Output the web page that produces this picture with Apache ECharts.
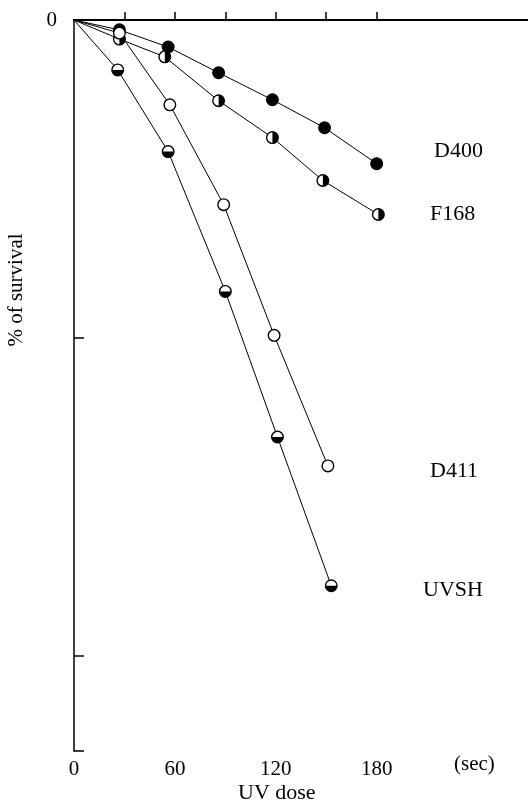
<!DOCTYPE html>
<html>
<head>
<meta charset="utf-8">
<script src="https://cdn.jsdelivr.net/npm/echarts@6/dist/echarts.min.js"></script>
<style>html,body{margin:0;padding:0;background:#fff;}#c{width:528px;height:803px;}</style>
</head>
<body>
<div id="c"></div>
<script>
// UV dose (sec) and survival on a log-decade scale (0 = 100%, 1 = 10%, 2 = 1%)
const d400Dose = [0, 27, 56, 86, 118, 149, 180];
const d400Surv = [0, 0.031, 0.085, 0.166, 0.251, 0.339, 0.452];
const f168Dose = [0, 27, 54, 86, 118, 148, 181];
const f168Surv = [0, 0.060, 0.116, 0.254, 0.370, 0.505, 0.612];
const d411Dose = [0, 27, 57, 89, 119, 151];
const d411Surv = [0, 0.041, 0.267, 0.581, 0.992, 1.403];
const uvshDose = [0, 26, 56, 90, 121, 153];
const uvshSurv = [0, 0.157, 0.414, 0.854, 1.312, 1.780];

const xTicks = [30, 60, 90, 120, 150, 180];
const xLabels = [0, 60, 120, 180];
const strainNames = ['D400', 'F168', 'D411', 'UVSH'];

const FONT = '"Liberation Serif", "DejaVu Serif", serif';
const pairs = (xs, ys) => xs.map((x, i) => [x, ys[i]]);

const strains = [
  { name: strainNames[0], data: pairs(d400Dose, d400Surv), fill: 'full' },
  { name: strainNames[1], data: pairs(f168Dose, f168Surv), fill: 'right' },
  { name: strainNames[2], data: pairs(d411Dose, d411Surv), fill: 'none' },
  { name: strainNames[3], data: pairs(uvshDose, uvshSurv), fill: 'bottom' }
];

function markerRenderer(fill) {
  return function (params, api) {
    const p = api.coord([api.value(0), api.value(1)]);
    const r = 5.8;
    const children = [{
      type: 'circle',
      shape: { cx: p[0], cy: p[1], r: r },
      style: { fill: fill === 'full' ? '#000' : '#fff', stroke: '#000', lineWidth: 1.4 }
    }];
    if (fill === 'right' || fill === 'bottom') {
      const a0 = fill === 'right' ? -Math.PI / 2 : 0;
      children.push({
        type: 'sector',
        shape: { cx: p[0], cy: p[1], r: r, r0: 0, startAngle: a0, endAngle: a0 + Math.PI, clockwise: true },
        style: { fill: '#000' }
      });
    }
    return { type: 'group', children: children };
  };
}

const series = [];
strains.forEach(s => {
  series.push({
    type: 'line', name: s.name, data: s.data, symbol: 'none',
    lineStyle: { color: '#000', width: 1 }, silent: true, animation: false
  });
});
strains.forEach(s => {
  series.push({
    type: 'custom', name: s.name + ' pts', data: s.data.slice(1),
    renderItem: markerRenderer(s.fill), animation: false, z: 5
  });
});

const chart = echarts.init(document.getElementById('c'), null, { renderer: 'canvas' });
chart.setOption({
  backgroundColor: '#fff',
  animation: false,
  grid: { left: 74, right: 0, top: 20, bottom: 52 },
  xAxis: [{
    type: 'value', min: 0, max: 270, interval: 30, position: 'bottom',
    splitLine: { show: false },
    axisLine: { show: true, lineStyle: { color: '#000', width: 2 } },
    axisTick: { show: true, inside: true, length: 8, customValues: xTicks, lineStyle: { color: '#000', width: 1.5 } },
    axisLabel: { show: true, customValues: xLabels, margin: 8, color: '#000', fontFamily: FONT, fontSize: 21 }
  }, {
    type: 'value', min: 0, max: 270, position: 'top',
    splitLine: { show: false },
    axisLine: { show: true, lineStyle: { color: '#000', width: 2 } },
    axisTick: { show: false }, axisLabel: { show: false }
  }],
  yAxis: {
    type: 'value', inverse: true, min: 0, max: 2.3, interval: 1,
    splitLine: { show: false },
    axisLine: { show: true, lineStyle: { color: '#000', width: 1.5 } },
    axisTick: { show: true, inside: true, length: 10, lineStyle: { color: '#000', width: 1.5 } },
    axisLabel: {
      show: true, margin: 17, color: '#000', fontFamily: FONT, fontSize: 21,
      formatter: v => (v === 0 ? '0' : '')
    }
  },
  graphic: [
    { type: 'text', left: 434, top: 140, style: { text: 'D400', font: '22px ' + FONT, fill: '#000' } },
    { type: 'text', left: 430, top: 203, style: { text: 'F168', font: '22px ' + FONT, fill: '#000' } },
    { type: 'text', left: 430, top: 460, style: { text: 'D411', font: '22px ' + FONT, fill: '#000' } },
    { type: 'text', left: 423, top: 579, style: { text: 'UVSH', font: '22px ' + FONT, fill: '#000' } },
    { type: 'text', left: 454, top: 754, style: { text: '(sec)', font: '21px ' + FONT, fill: '#000' } },
    { type: 'text', left: 238, top: 782, style: { text: 'UV dose', font: '22px ' + FONT, fill: '#000' } },
    { type: 'text', x: 16, y: 290, rotation: Math.PI / 2,
      style: { text: '% of survival', font: '21px ' + FONT, fill: '#000', align: 'center', verticalAlign: 'middle' } }
  ],
  series: series
});
</script>
</body>
</html>
